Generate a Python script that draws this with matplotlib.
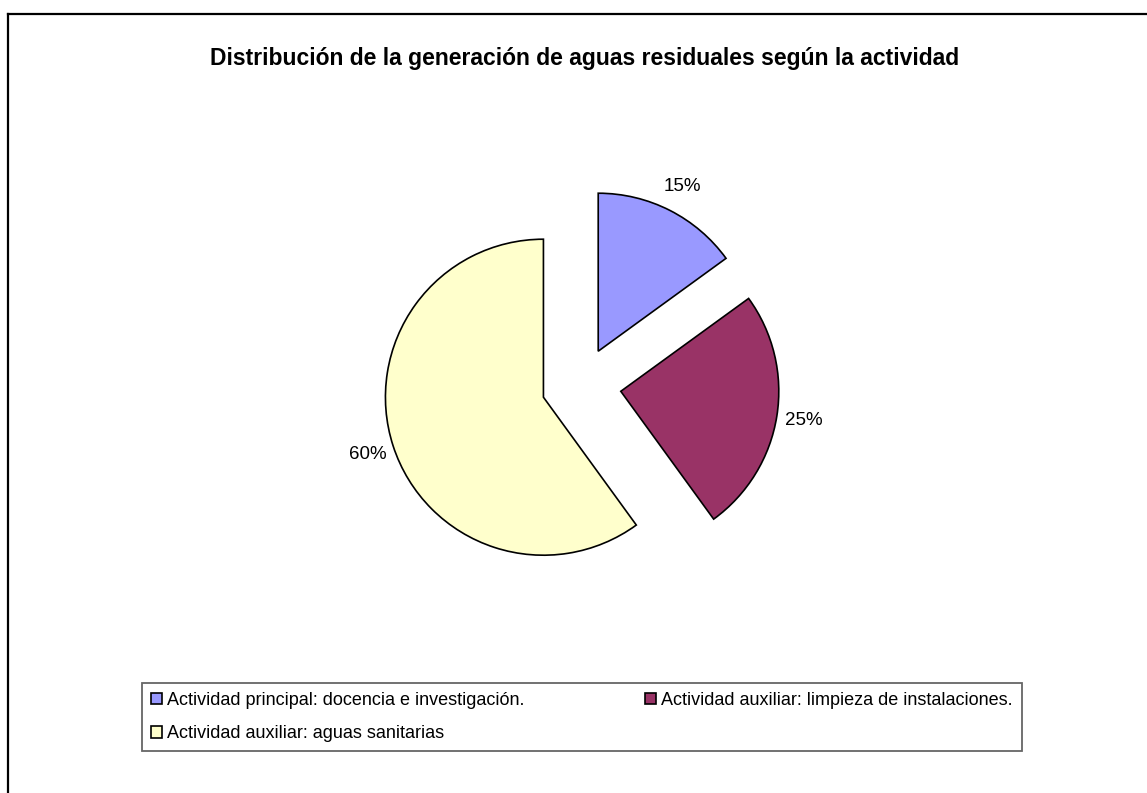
import matplotlib.pyplot as plt
from matplotlib.lines import Line2D

plt.rcParams['font.family'] = ['Liberation Sans', 'DejaVu Sans']

titulo = 'Distribución de la generación de aguas residuales según la actividad'
actividades = ['Actividad principal: docencia e investigación.',
               'Actividad auxiliar: limpieza de instalaciones.',
               'Actividad auxiliar: aguas sanitarias']
porcentajes = [15, 25, 60]
colores = ['#9999FF', '#993366', '#FFFFCC']
separacion = [0.24, 0.255, 0.25]

W, H = 1147, 793
fig = plt.figure(figsize=(W / 100, H / 100), dpi=100)

# pie centre and radius in pixels (from the top-left corner)
cx, cy, r = 581, 385, 158
ax = fig.add_axes([0, 0, 1, 1])
wedges, texts, autotexts = ax.pie(
    porcentajes, colors=colores, explode=separacion, startangle=90,
    counterclock=False, autopct='%1.0f%%', pctdistance=1.17,
    wedgeprops=dict(edgecolor='black', linewidth=1.2),
    textprops=dict(fontsize=13.5, color='black'))
ax.set_aspect('auto')
ax.set_xlim(-cx / r, (W - cx) / r)
ax.set_ylim(-(H - cy) / r, cy / r)
ax.axis('off')

fig.text(585 / W, 1 - 58 / H, titulo, ha='center', va='center',
         fontsize=16.5, fontweight='bold')

# legend is filled row by row in the reference
orden = [0, 2, 1]
leg = fig.legend([wedges[i] for i in orden], [actividades[i] for i in orden],
                 ncol=2, mode='expand', loc='upper left',
                 bbox_to_anchor=(142 / W, 1 - 683 / H, 880 / W, 0),
                 fontsize=13, frameon=True, fancybox=False,
                 edgecolor='#404040', handlelength=0.6, handleheight=0.6,
                 handletextpad=0.3, labelspacing=0.9, borderpad=0.5,
                 borderaxespad=0)
leg.get_frame().set_linewidth(1.3)

# chart area border: only top and left are inside the picture
fig.add_artist(Line2D([8 / W, 8 / W], [0, 1 - 14 / H], color='black', lw=1.6))
fig.add_artist(Line2D([8 / W, 1], [1 - 14 / H, 1 - 14 / H], color='black', lw=1.6))

fig.savefig('out.png', dpi=100)
